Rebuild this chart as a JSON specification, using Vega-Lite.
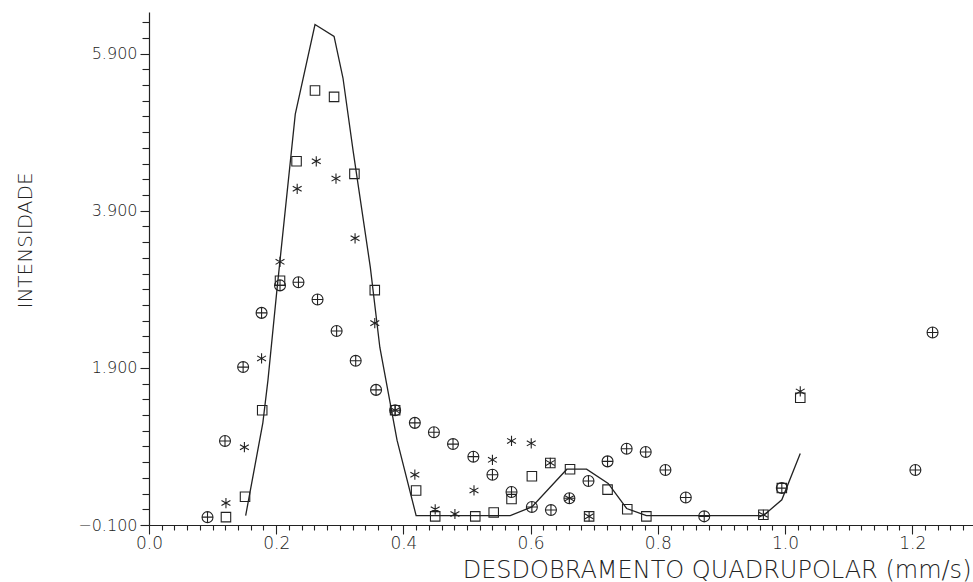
{
  "$schema": "https://vega.github.io/schema/vega-lite/v6.json",
  "autosize": {"type": "none"},
  "padding": {"left": 149, "top": 12, "right": 0, "bottom": 57},
  "width": 824,
  "height": 513,
  "background": "white",
  "config": {"view": {"stroke": null}, "axis": {"grid": false, "domainColor": "#222", "tickColor": "#222", "domainWidth": 1.2, "tickWidth": 1.1, "labelFont": "DejaVu Sans", "labelFontWeight": 200, "labelColor": "#222", "titleFont": "DejaVu Sans", "titleFontWeight": 200, "titleColor": "#222", "labelOverlap": false, "labelFlush": false}},
  "data": {"values": [
    {"serie": "linha", "x": 0.152, "y": 0.02}, {"serie": "linha", "x": 0.179, "y": 1.2}, {"serie": "linha", "x": 0.187, "y": 1.74}, {"serie": "linha", "x": 0.201, "y": 2.88}, {"serie": "linha", "x": 0.230, "y": 5.13}, {"serie": "linha", "x": 0.261, "y": 6.27}, {"serie": "linha", "x": 0.291, "y": 6.12}, {"serie": "linha", "x": 0.305, "y": 5.59}, {"serie": "linha", "x": 0.321, "y": 4.66}, {"serie": "linha", "x": 0.348, "y": 3.18}, {"serie": "linha", "x": 0.363, "y": 2.16}, {"serie": "linha", "x": 0.390, "y": 0.98}, {"serie": "linha", "x": 0.420, "y": 0.02}, {"serie": "linha", "x": 0.568, "y": 0.02}, {"serie": "linha", "x": 0.602, "y": 0.13}, {"serie": "linha", "x": 0.657, "y": 0.61}, {"serie": "linha", "x": 0.688, "y": 0.61}, {"serie": "linha", "x": 0.722, "y": 0.43}, {"serie": "linha", "x": 0.751, "y": 0.11}, {"serie": "linha", "x": 0.782, "y": 0.02}, {"serie": "linha", "x": 0.966, "y": 0.02}, {"serie": "linha", "x": 0.995, "y": 0.22}, {"serie": "linha", "x": 1.024, "y": 0.81},
    {"serie": "quadrado", "x": 0.121, "y": 0.0}, {"serie": "quadrado", "x": 0.151, "y": 0.26}, {"serie": "quadrado", "x": 0.178, "y": 1.36}, {"serie": "quadrado", "x": 0.206, "y": 3.01}, {"serie": "quadrado", "x": 0.232, "y": 4.53}, {"serie": "quadrado", "x": 0.261, "y": 5.43}, {"serie": "quadrado", "x": 0.291, "y": 5.35}, {"serie": "quadrado", "x": 0.323, "y": 4.37}, {"serie": "quadrado", "x": 0.355, "y": 2.89}, {"serie": "quadrado", "x": 0.387, "y": 1.36}, {"serie": "quadrado", "x": 0.420, "y": 0.34}, {"serie": "quadrado", "x": 0.450, "y": 0.01}, {"serie": "quadrado", "x": 0.513, "y": 0.01}, {"serie": "quadrado", "x": 0.542, "y": 0.06}, {"serie": "quadrado", "x": 0.570, "y": 0.23}, {"serie": "quadrado", "x": 0.602, "y": 0.52}, {"serie": "quadrado", "x": 0.631, "y": 0.69}, {"serie": "quadrado", "x": 0.662, "y": 0.61}, {"serie": "quadrado", "x": 0.692, "y": 0.01}, {"serie": "quadrado", "x": 0.721, "y": 0.35}, {"serie": "quadrado", "x": 0.752, "y": 0.10}, {"serie": "quadrado", "x": 0.782, "y": 0.01}, {"serie": "quadrado", "x": 0.966, "y": 0.03}, {"serie": "quadrado", "x": 0.995, "y": 0.37}, {"serie": "quadrado", "x": 1.024, "y": 1.52},
    {"serie": "estrela", "x": 0.121, "y": 0.18}, {"serie": "estrela", "x": 0.150, "y": 0.89}, {"serie": "estrela", "x": 0.177, "y": 2.02}, {"serie": "estrela", "x": 0.206, "y": 3.25}, {"serie": "estrela", "x": 0.233, "y": 4.18}, {"serie": "estrela", "x": 0.263, "y": 4.53}, {"serie": "estrela", "x": 0.294, "y": 4.31}, {"serie": "estrela", "x": 0.324, "y": 3.55}, {"serie": "estrela", "x": 0.355, "y": 2.47}, {"serie": "estrela", "x": 0.387, "y": 1.36}, {"serie": "estrela", "x": 0.418, "y": 0.54}, {"serie": "estrela", "x": 0.450, "y": 0.10}, {"serie": "estrela", "x": 0.481, "y": 0.04}, {"serie": "estrela", "x": 0.511, "y": 0.34}, {"serie": "estrela", "x": 0.540, "y": 0.73}, {"serie": "estrela", "x": 0.570, "y": 0.97}, {"serie": "estrela", "x": 0.601, "y": 0.94}, {"serie": "estrela", "x": 0.631, "y": 0.69}, {"serie": "estrela", "x": 0.661, "y": 0.24}, {"serie": "estrela", "x": 0.692, "y": 0.01}, {"serie": "estrela", "x": 0.966, "y": 0.03}, {"serie": "estrela", "x": 1.024, "y": 1.60},
    {"serie": "circulo", "x": 0.092, "y": 0.0}, {"serie": "circulo", "x": 0.1195, "y": 0.97}, {"serie": "circulo", "x": 0.148, "y": 1.91}, {"serie": "circulo", "x": 0.177, "y": 2.60}, {"serie": "circulo", "x": 0.206, "y": 2.95}, {"serie": "circulo", "x": 0.235, "y": 2.99}, {"serie": "circulo", "x": 0.265, "y": 2.77}, {"serie": "circulo", "x": 0.295, "y": 2.37}, {"serie": "circulo", "x": 0.325, "y": 1.99}, {"serie": "circulo", "x": 0.357, "y": 1.62}, {"serie": "circulo", "x": 0.387, "y": 1.36}, {"serie": "circulo", "x": 0.418, "y": 1.20}, {"serie": "circulo", "x": 0.448, "y": 1.08}, {"serie": "circulo", "x": 0.478, "y": 0.93}, {"serie": "circulo", "x": 0.510, "y": 0.77}, {"serie": "circulo", "x": 0.540, "y": 0.54}, {"serie": "circulo", "x": 0.570, "y": 0.32}, {"serie": "circulo", "x": 0.602, "y": 0.13}, {"serie": "circulo", "x": 0.632, "y": 0.09}, {"serie": "circulo", "x": 0.661, "y": 0.24}, {"serie": "circulo", "x": 0.691, "y": 0.46}, {"serie": "circulo", "x": 0.721, "y": 0.71}, {"serie": "circulo", "x": 0.751, "y": 0.87}, {"serie": "circulo", "x": 0.781, "y": 0.83}, {"serie": "circulo", "x": 0.812, "y": 0.60}, {"serie": "circulo", "x": 0.844, "y": 0.25}, {"serie": "circulo", "x": 0.873, "y": 0.01}, {"serie": "circulo", "x": 0.995, "y": 0.37}, {"serie": "circulo", "x": 1.205, "y": 0.60}, {"serie": "circulo", "x": 1.232, "y": 2.35}
  ]},
  "encoding": {
    "x": {"field": "x", "type": "quantitative", "scale": {"domain": [0, 1.2956], "nice": false, "zero": false},
      "axis": {"title": "DESDOBRAMENTO QUADRUPOLAR (mm/s)", "titleFontSize": 24, "titleX": 822, "titleY": 45, "titleAlign": "right", "titleBaseline": "middle", "titleAnchor": "end",
        "values": [0,0.02,0.04,0.06,0.08,0.1,0.12,0.14,0.16,0.18,0.2,0.22,0.24,0.26,0.28,0.3,0.32,0.34,0.36,0.38,0.4,0.42,0.44,0.46,0.48,0.5,0.52,0.54,0.56,0.58,0.6,0.62,0.64,0.66,0.68,0.7,0.72,0.74,0.76,0.78,0.8,0.82,0.84,0.86,0.88,0.9,0.92,0.94,0.96,0.98,1.0,1.02,1.04,1.06,1.08,1.1,1.12,1.14,1.16,1.18,1.2,1.22,1.24,1.26,1.28],
        "labelExpr": "abs(datum.value*5 - round(datum.value*5)) < 0.001 ? format(datum.value, '.1f') : ''",
        "labelFontSize": 17, "labelPadding": 1,
        "tickSize": {"condition": {"test": "abs(datum.value*5 - round(datum.value*5)) < 0.001", "value": 9}, "value": 5}}},
    "y": {"field": "y", "type": "quantitative", "scale": {"domain": [-0.1, 6.43], "nice": false, "zero": false},
      "axis": {"title": "INTENSIDADE", "titleFontSize": 20, "titleAngle": 270, "titleX": -124, "titleY": 228, "titleAlign": "center", "titleBaseline": "middle",
        "values": [-0.1,0.1,0.3,0.5,0.7,0.9,1.1,1.3,1.5,1.7,1.9,2.1,2.3,2.5,2.7,2.9,3.1,3.3,3.5,3.7,3.9,4.1,4.3,4.5,4.7,4.9,5.1,5.3,5.5,5.7,5.9,6.1,6.3],
        "labelExpr": "abs((datum.value+0.1)/2 - round((datum.value+0.1)/2)) < 0.001 ? format(datum.value, '.3f') : ''",
        "labelFontSize": 16, "labelPadding": 3,
        "tickSize": {"condition": {"test": "abs((datum.value+0.1)/2 - round((datum.value+0.1)/2)) < 0.001", "value": 9}, "value": 7}}}
  },
  "layer": [
    {"transform": [{"filter": "datum.serie == 'linha'"}], "mark": {"type": "line", "color": "#222", "strokeWidth": 1.3}},
    {"transform": [{"filter": "datum.serie != 'linha'"}], "mark": {"type": "point", "filled": false, "strokeWidth": 1.1, "color": "#222", "opacity": 1},
      "encoding": {
        "shape": {"field": "serie", "type": "nominal", "legend": null, "scale": {"domain": ["quadrado", "estrela", "circulo"], "range": ["square", "M0,-1L0,1M-0.87,-0.5L0.87,0.5M-0.87,0.5L0.87,-0.5", "M1,0A1,1 0 1,1 -1,0A1,1 0 1,1 1,0M-1,0L1,0M0,-1L0,1"]}},
        "size": {"field": "serie", "type": "nominal", "legend": null, "scale": {"domain": ["quadrado", "estrela", "circulo"], "range": [90, 120, 110]}}
      }}
  ]
}
